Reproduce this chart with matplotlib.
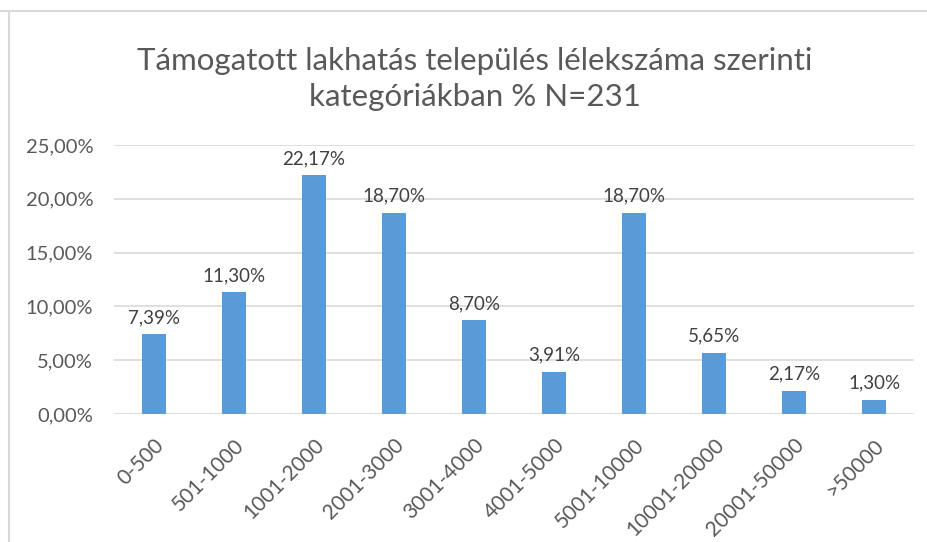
import numpy as np
import matplotlib
matplotlib.use("Agg")
import matplotlib.pyplot as plt
from matplotlib.lines import Line2D

categories = ["0-500", "501-1000", "1001-2000", "2001-3000", "3001-4000",
              "4001-5000", "5001-10000", "10001-20000", "20001-50000", ">50000"]
values = [7.39, 11.30, 22.17, 18.70, 8.70, 3.91, 18.70, 5.65, 2.17, 1.30]
yticks = [0, 5, 10, 15, 20, 25]

plt.rcParams['font.family'] = ['Lato', 'DejaVu Sans']
gray = '#595959'

fig = plt.figure(figsize=(9.27, 5.42), dpi=100)
ax = fig.add_axes([114 / 927, 1 - 414 / 542, 800 / 927, (414 - 145) / 542])

x = np.arange(len(categories))
ax.bar(x, values, width=0.31, color='#5b9bd5', zorder=3)
for xi, v in zip(x, values):
    ax.annotate(('%.2f%%' % v).replace('.', ','), (xi, v), xytext=(0, 6),
                textcoords='offset points', ha='center', va='bottom',
                fontsize=13.5, color='#404040')

ax.set_xlim(-0.5, len(categories) - 0.5)
ax.set_ylim(0, 25)
ax.set_yticks(yticks)
ax.set_yticklabels([('%.2f%%' % t).replace('.', ',') for t in yticks],
                   fontsize=14.5, color=gray)
ax.set_xticks(x)
ax.set_xticklabels(categories, rotation=45, ha='right', rotation_mode='anchor',
                   fontsize=15, color=gray)
ax.tick_params(axis='y', length=0, pad=15)
ax.tick_params(axis='x', length=0, pad=15)
ax.grid(axis='y', color='#d9d9d9', linewidth=1.2, zorder=0)
for s in ax.spines.values():
    s.set_visible(False)

fig.text(475 / 927, 1 - 79 / 542, "Támogatott lakhatás település lélekszáma szerinti\nkategóriákban % N=231",
         ha='center', va='center', fontsize=22.5, color=gray, linespacing=1.35)

# chart area border (top and left visible)
fig.add_artist(Line2D([0, 1], [1 - 11 / 542] * 2, transform=fig.transFigure,
                      color='#d9d9d9', linewidth=1.5))
fig.add_artist(Line2D([9 / 927] * 2, [0, 1 - 11 / 542], transform=fig.transFigure,
                      color='#d9d9d9', linewidth=1.5))

fig.savefig("out.png", dpi=100)
